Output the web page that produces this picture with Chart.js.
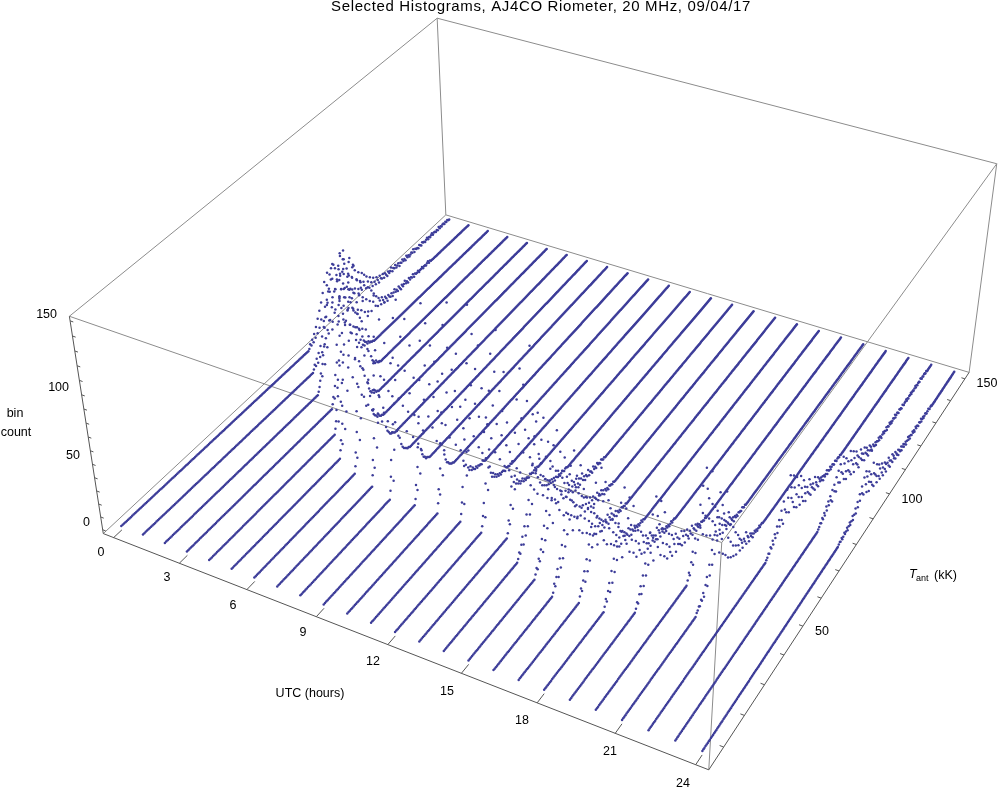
<!DOCTYPE html>
<html><head><meta charset="utf-8"><title>Selected Histograms</title>
<style>html,body{margin:0;padding:0;background:#fff}canvas{display:block}</style>
<script src="https://cdn.jsdelivr.net/npm/chart.js@4/dist/chart.umd.js"></script></head>
<body><canvas id="c" width="1000" height="793"></canvas>
<script>
const chartTitle = 'Selected Histograms, AJ4CO Riometer, 20 MHz, 09/04/17';
const hourTicks = [0,3,6,9,12,15,18,21,24];
const tantTicks = [50,100,150];
const tantMinor = [10,20,30,40,50,60,70,80,90,100,110,120,130,140,150];
const countTicks = [0,50,100,150];
const countMinor = [0,10,20,30,40,50,60,70,80,90,100,110,120,130,140,150];
const hours = [0,1,2,3,4,5,6,7,8,9,10,11,12,13,14,15,16,17,18,19,20,21,22,23,24];
const binWidth = 0.5, firstBin = 6, lastBin = 150;
// first non-zero bin (kK) of every hourly histogram; all other bins are empty
const startT = [82,75,68,65,57,50,47,45,43,44,44,44,43,44,38,35,32,33,33,36,49,41,64,79,76];
const c00 = [1,4,2,6,3,9,5,13,7,18,10,23,15,28,12,34,22,41,26,37,46,30,43,24,38,49,28,44,33,20,41,35,52,27,38,45,22,36,31,18,42,26,33,15,29,21,12,25,17,9,22,14,19,7,16,11,5,13,8,4,10,6,3,8,5,2,7,4,3,6,2,5,3,1,4,2,3,5,1,3,2,4,1,2,3,0,2,1,3,1,2,0,3,1,2,0,1,2,1,3,0,2,1,1,0,2,1,0,2,1,1,0,1,2,0,1,0,1,2,0,1,1,0,1,0,2,0,1,0,1,1,0,1,0,1,0];
const c01 = [2,5,3,8,4,11,7,15,9,21,12,27,17,33,22,41,28,50,19,36,57,30,46,66,25,53,38,62,43,29,55,34,70,24,48,37,58,20,44,31,52,16,39,26,13,35,22,9,30,18,7,26,14,5,21,11,17,6,13,4,10,7,3,8,5,2,6,4,1,5,3,2,4,1,3,5,2,3,1,4,2,0,3,1,2,4,1,2,0,3,1,2,1,3,0,2,1,1,2,0,1,1,2,0,1,1,0,1,2,0,1];
const c02 = [2,5,9,14,11,20,26,18,33,45,29,52,38,61,47,70,44,58,83,51,66,40,75,56,48,62,35,54,71,42,30,57,46,26,38,51,23,33,19,28,12,8,6,5,3,4,2,2,1,1];
const c03 = [3,8,6,15,23,12,31,44,27,58,36,71,49,88,62,104,55,79,96,67,42,85,60,73,38,90,52,31,66,44,24,58,35,17,28,11,7,5,3,4,2,1,1];
const c04 = [4,9,17,7,26,38,20,51,33,68,47,92,59,110,72,48,118,81,63,99,41,86,54,74,32,60,45,22,37,15,9,6,4,5,2,3,1,1];
const c05 = [6,13,9,24,37,18,55,30,72,44,96,60,116,78,50,88,107,62,39,83,57,70,28,48,66,19,35,24,12,8,6,5,3,4,2,1,1];
const c06 = [5,15,10,29,44,21,63,36,88,52,118,70,41,97,125,58,80,33,102,47,66,27,74,38,18,52,23,11,7,5,3,2,2,1];
const c07 = [8,19,12,34,55,25,78,42,104,61,131,84,49,112,68,36,93,57,120,30,75,44,22,60,15,9,6,4,3,2,1,1];
const c08 = [6,16,28,11,47,33,72,52,98,40,124,66,89,134,58,107,37,81,50,116,62,28,95,43,70,19,34,13,8,5,4,2,2,1];
const c09 = [4,14,9,26,40,19,61,35,86,48,112,69,136,92,54,120,76,43,102,64,30,88,51,72,24,39,14,9,6,5,3,2,1,1];
const c10 = [7,17,12,31,49,24,70,41,96,58,128,80,46,110,140,66,92,36,75,53,100,28,60,18,42,13,22,9,6,8,4,5,3,2,3,1,2,1,1,0,2,1,0,1];
const c11 = [5,13,24,10,38,57,29,84,46,108,68,146,90,52,124,74,98,40,62,112,33,80,47,25,56,17,30,11,7,9,5,6,3,4,2,3,1,2,2,1,0,2,1,1,0,1];
const c12 = [4,11,20,8,33,50,26,74,42,96,61,120,83,48,105,67,132,39,88,55,72,30,98,44,60,23,36,16,27,10,14,7,9,5,6,3,4,5,2,3,1,2,1,0,2,1,1,0,1,2,0,1];
const c13 = [3,12,8,22,35,17,52,30,71,44,93,60,38,112,76,50,98,65,28,84,56,41,120,33,70,47,24,62,19,36,13,27,9,15,7,11,5,8,4,6,3,5,2,4,1,3,2,1,2,0,1,2,1,0,1,1];
const c14 = [2,6,4,10,15,8,21,13,28,18,37,25,46,31,60,40,78,52,34,92,58,45,70,28,84,38,54,22,63,33,47,18,41,26,14,35,20,9,29,16,12,24,7,18,11,5,15,9,20,6,13,3,10,7,4,12,5,8,2,6,9,3,5,1,4,2,6,1,3,2,0,4,1,2,0,3,1,1,0,2,1,0,1];
const c15 = [3,7,5,12,9,17,24,13,32,20,41,27,55,35,68,44,26,82,51,38,90,60,30,72,42,56,22,64,34,48,19,40,28,15,36,23,11,30,18,8,25,14,6,20,12,17,5,10,14,4,8,11,3,7,9,2,6,4,8,1,5,3,6,2,4,0,3,1,2,0,2,1,1,0,1];
const c16 = [2,8,5,11,16,9,22,14,30,19,39,26,50,33,63,42,80,54,31,88,47,66,36,58,25,72,40,20,52,29,44,16,34,23,12,28,18,8,24,13,6,19,10,15,4,12,7,9,3,8,5,10,2,6,3,7,1,4,2,5,0,3,1,2,0,2,1,1,0,1];
const c17 = [4,9,6,13,19,10,26,16,35,22,46,30,58,38,74,48,27,62,41,80,33,54,24,66,36,18,50,28,42,14,32,21,10,26,16,6,20,11,15,4,13,8,10,3,7,5,9,2,6,1,4,2,5,0,3,1,2,0,1,2,0,1];
const c18 = [3,8,5,12,17,9,24,14,31,20,42,27,53,35,66,44,24,74,38,57,30,48,62,21,40,28,52,16,34,23,10,29,18,12,25,7,20,14,5,17,10,13,8,15,4,11,6,9,3,7,12,2,8,5,1,6,3,4,0,2,3,1,2,0,1,2,0,1,1];
const c19 = [2,6,4,10,15,8,21,12,28,18,37,24,47,31,58,40,22,68,36,52,28,44,60,19,38,26,48,14,32,21,9,27,16,11,23,6,18,13,20,5,15,9,12,7,16,4,10,13,3,8,11,5,2,7,4,9,1,5,3,6,0,3,1,2,0,2,1,1,0,1];
const c20 = [3,8,5,14,21,10,29,17,38,25,50,32,62,41,24,72,36,55,19,46,30,64,15,38,24,9,33,18,12,27,7,20,14,5,16,10,3,12,7,9,2,6,4,8,1,5,3,4,0,3,1,2,0,2,1,1,0,2,1,0,1];
const c21 = [2,3,5,4,8,6,11,7,15,20,12,27,18,36,24,45,30,56,38,72,44,26,60,34,52,21,66,40,17,48,28,12,36,22,9,31,16,7,24,13,5,19,10,14,4,11,8,3,9,6,12,2,7,5,1,6,3,4,0,2,3,1,2,0,1,2,0,1,1];
const c22 = [1,2,4,3,7,5,10,6,13,9,17,11,20,14,25,17,30,12,22,36,18,28,44,15,33,24,40,19,29,13,35,21,10,26,16,31,8,20,12,24,7,17,11,4,14,9,18,6,12,3,8,10,5,13,2,7,4,9,1,6,3,5,2,4,0,3,1,2,4,0,2,1,3,0,1,2,1,0,2,1,0,1,1,0,1];
const c23 = [1,2,4,3,6,4,8,5,11,7,13,9,15,11,18,8,20,14,24,12,27,17,30,15,22,33,19,26,13,28,17,10,23,15,29,12,20,8,25,14,18,6,21,11,16,8,13,4,17,9,12,6,10,14,3,8,11,5,7,2,9,4,6,3,1,5,3,2,4,1,3,2,4,1,3,2,0,2,3,1,2,1,3,0,2,1,3,1,2,0,1,2,1,3,0,1,2,1,0,2,1,1,0,2,1,0,1,1,2,0,1,0,1,1,2,0,1,1,0,1,2,0,1,0,1,1,0,2,1,0,1,0,1,1,0,1];
const c24 = [0,1,2,1,3,1,2,4,2,3,5,2,4,6,3,5,8,4,7,11,6,14,9,18,12,22,16,27,13,30,19,24,11,26,17,9,21,14,28,10,18,7,15,22,12,6,19,9,14,5,16,8,11,4,13,7,10,3,9,12,5,8,2,6,10,3,7,4,8,2,5,3,6,1,4,2,5,1,3,4,1,2,3,0,2,4,1,3,0,2,1,3,1,2,0,3,1,2,1,0,2,1,3,0,1,2,0,1,2,1,0,1,2,1,0,1,1];
const hourCounts = [c00,c01,c02,c03,c04,c05,c06,c07,c08,c09,c10,c11,c12,c13,c14,c15,c16,c17,c18,c19,c20,c21,c22,c23,c24];

// 3-D view: plot-range limits and the box as seen by the camera
const hourRange = [-0.48,24.48], tantRange = [3,153], countRange = [-3,153];
const floorQuad = [[102.3,534],[709.3,771],[970.3,372.3],[445.7,214.3]];
const roofQuad = [[68.3,316],[722.3,543],[998,163],[437,17]];
const riseBias = 1.1;
function quadMap(q){const [a,b,c,d]=q;
  const dx1=b[0]-c[0],dx2=d[0]-c[0],dx3=a[0]-b[0]+c[0]-d[0],dy1=b[1]-c[1],dy2=d[1]-c[1],dy3=a[1]-b[1]+c[1]-d[1];
  const det=dx1*dy2-dx2*dy1,g=(dx3*dy2-dx2*dy3)/det,h=(dx1*dy3-dx3*dy1)/det;
  return (u,v)=>{const w=g*u+h*v+1;return [((b[0]-a[0]+g*b[0])*u+(d[0]-a[0]+h*d[0])*v+a[0])/w,((b[1]-a[1]+g*b[1])*u+(d[1]-a[1]+h*d[1])*v+a[1])/w];};}
const floorMap=quadMap(floorQuad), roofMap=quadMap(roofQuad);
function project(hour,tant,count){
  const u=(hour-hourRange[0])/(hourRange[1]-hourRange[0]),v=(tant-tantRange[0])/(tantRange[1]-tantRange[0]);
  const s=(count-countRange[0])/(countRange[1]-countRange[0]),p=s/(s+(1-s)*riseBias);
  const a=floorMap(u,v),b=roofMap(u,v);
  return {x:a[0]+(b[0]-a[0])*p,y:a[1]+(b[1]-a[1])*p};}

const datasets = hours.map((hour,i)=>{
  const pts=[],n=Math.round((lastBin-firstBin)/binWidth);
  for(let k=0;k<=n;k++){
    const T=firstBin+k*binWidth,j=Math.round((T-startT[i])/binWidth);
    const c=(j>=0&&j<hourCounts[i].length)?hourCounts[i][j]:0;
    pts.push(project(hour,T,c));
  }
  return {label:'UTC '+hour,data:pts,showLine:false,pointRadius:1.25,pointHoverRadius:1.25,pointBorderWidth:0,
          backgroundColor:'#3d3d99',borderColor:'#3d3d99'};
});

const textItems = [
  {t:'bin',x:15,y:414,a:'center'},{t:'count',x:16,y:433,a:'center'},
  {t:'UTC (hours)',x:310,y:694,a:'center'}
];
const countLabelPos=[[90,523],[80,456],[69,388],[57,315]];
const hourLabelPos=[[101,553],[167,578],[233,606],[303,633],[373,662],[447,692],[522,721],[610,752],[683,784]];
const tantLabelPos=[[822,632],[912,500],[987,384]];

const boxPlugin={id:'box3d',
  beforeDatasetsDraw(chart){
    const ctx=chart.ctx,X=chart.scales.x,Y=chart.scales.y;
    const px=p=>[X.getPixelForValue(p.x),Y.getPixelForValue(p.y)];
    const [h0,h1]=hourRange,[t0,t1]=tantRange,[c0,c1]=countRange;
    const seg=(a,b,col)=>{const A=px(a),B=px(b);ctx.strokeStyle=col;ctx.lineWidth=1;ctx.beginPath();ctx.moveTo(A[0],A[1]);ctx.lineTo(B[0],B[1]);ctx.stroke();};
    ctx.save();
    const gray='#8c8c8c',dark='#555555';
    [[[h0,t0,c1],[h1,t0,c1]],[[h1,t0,c1],[h1,t1,c1]],[[h1,t1,c1],[h0,t1,c1]],[[h0,t1,c1],[h0,t0,c1]],
     [[h1,t0,c0],[h1,t0,c1]],[[h1,t1,c0],[h1,t1,c1]],[[h0,t1,c0],[h0,t1,c1]],
     [[h0,t0,c0],[h0,t1,c0]],[[h0,t1,c0],[h1,t1,c0]]].forEach(e=>seg(project(...e[0]),project(...e[1]),gray));
    [[[h0,t0,c0],[h0,t0,c1]],[[h0,t0,c0],[h1,t0,c0]],[[h1,t0,c0],[h1,t1,c0]]].forEach(e=>seg(project(...e[0]),project(...e[1]),dark));
    hourTicks.forEach(h=>seg(project(h,t0,c0),project(h,t0+3,c0),dark));
    tantMinor.forEach(T=>seg(project(h1,T,c0),project(h1-0.15,T,c0),dark));
    countMinor.forEach(c=>seg(project(h0,t0,c),project(h0+0.14,t0,c),dark));
    ctx.fillStyle='#000';ctx.textBaseline='middle';ctx.font='12.5px "Liberation Sans"';
    countTicks.forEach((c,i)=>{ctx.textAlign='right';ctx.fillText(String(c),countLabelPos[i][0],countLabelPos[i][1]);});
    hourTicks.forEach((h,i)=>{ctx.textAlign='center';ctx.fillText(String(h),hourLabelPos[i][0],hourLabelPos[i][1]);});
    tantTicks.forEach((T,i)=>{ctx.textAlign='center';ctx.fillText(String(T),tantLabelPos[i][0],tantLabelPos[i][1]);});
    ctx.font='12.5px "Liberation Sans"';
    textItems.forEach(o=>{ctx.textAlign=o.a;ctx.fillText(o.t,o.x,o.y);});
    ctx.textAlign='left';ctx.font='italic 12.5px "Liberation Sans"';ctx.fillText('T',909,575);
    ctx.font='9px "Liberation Sans"';ctx.fillText('ant',916,579);
    ctx.font='12.5px "Liberation Sans"';ctx.fillText('(kK)',934,576);
    ctx.font='15px "Liberation Sans"';ctx.letterSpacing='0.64px';ctx.textAlign='center';ctx.fillText(chartTitle,541,7);ctx.letterSpacing='0px';
    ctx.restore();
  }};

new Chart(document.getElementById('c'),{type:'scatter',data:{datasets},plugins:[boxPlugin],
  options:{responsive:false,animation:false,events:[],layout:{padding:0},
    plugins:{legend:{display:false},tooltip:{enabled:false},title:{display:false}},
    scales:{x:{type:'linear',display:false,min:0,max:1000},y:{type:'linear',display:false,min:0,max:793,reverse:true}}}});
</script></body></html>
